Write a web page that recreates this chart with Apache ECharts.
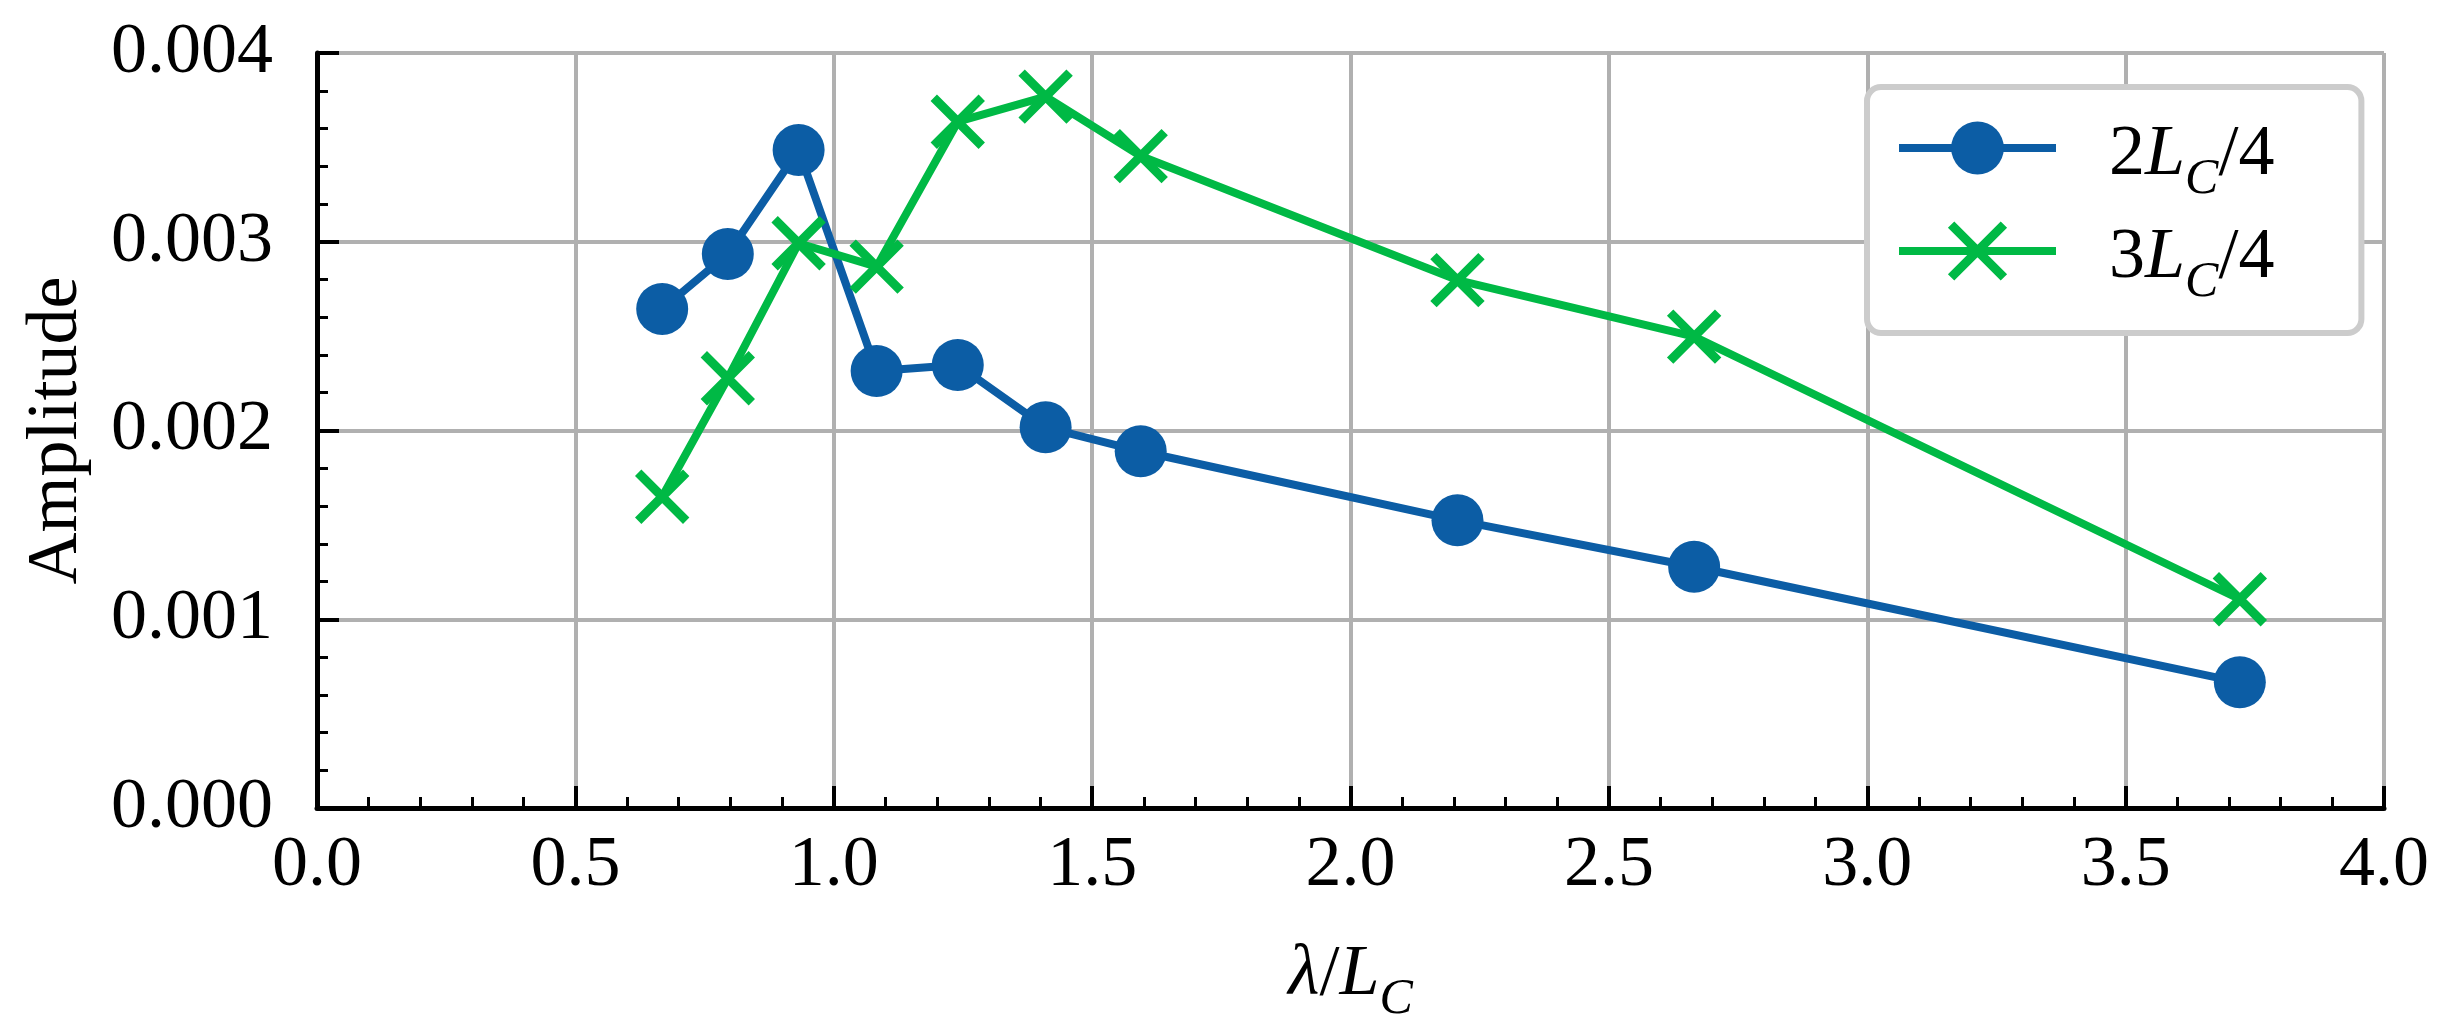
<!DOCTYPE html>
<html lang="en">
<head>
    <meta charset="UTF-8">
    <title>Amplitude</title>
    <script src="https://cdn.jsdelivr.net/npm/echarts@6/dist/echarts.min.js"></script>
    <style>
        html, body { margin: 0; padding: 0; background: #fff; }
        #main { width: 2449px; height: 1030px; }
    </style>
</head>
<body>
<div id="main"></div>
<script>
    // values
    var xVals = [0.668, 0.795, 0.932, 1.083, 1.240, 1.410, 1.594, 2.207, 2.665, 3.721];
    var amp2 = [0.002644, 0.002935, 0.003486, 0.002315, 0.002347, 0.002017, 0.001890, 0.001524, 0.001278, 0.000666];
    var amp3 = [0.001649, 0.002277, 0.002992, 0.002868, 0.003636, 0.003769, 0.003454, 0.002797, 0.002497, 0.001106];
    var names = ['2Lc/4', '3Lc/4'];
    var legendRich = {
        '2Lc/4': '{g| }{n|2}{i|L}{s|C}{n|/4}',
        '3Lc/4': '{g| }{n|3}{i|L}{s|C}{n|/4}'
    };

    var font = 'Liberation Serif';
    var rich = {
        g: { width: 48, fontSize: 20 },
        n: { fontFamily: font, fontSize: 72, lineHeight: 72, verticalAlign: 'top', padding: [7, 0, 7, 0], color: '#000' },
        i: { fontFamily: font, fontSize: 72, lineHeight: 72, fontStyle: 'italic', verticalAlign: 'top', padding: [7, 0, 7, 0], color: '#000' },
        s: { fontFamily: font, fontSize: 50, lineHeight: 50, fontStyle: 'italic', verticalAlign: 'top', padding: [43, 0, 0, 0], color: '#000' }
    };

    function pairs(ys) {
        var out = [];
        for (var k = 0; k < xVals.length; k++) out.push([xVals[k], ys[k]]);
        return out;
    }

    var myChart = echarts.init(document.getElementById('main'));
    var axisCommon = {
        axisLine: { show: true, onZero: false, lineStyle: { color: '#000', width: 5 } },
        axisTick: { show: true, inside: true, length: 22, lineStyle: { color: '#000', width: 4 } },
        minorTick: { show: true, splitNumber: 5, length: 11, lineStyle: { color: '#000', width: 3 } },
        splitLine: { show: true, lineStyle: { color: '#b0b0b0', width: 4 } }
    };

    var option = {
        backgroundColor: '#fff',
        animation: false,
        grid: { left: 317, right: 65, top: 53, bottom: 222 },
        legend: {
            data: [
                { name: names[0] },
                { name: names[1], itemStyle: { borderWidth: 9 } }
            ],
            orient: 'vertical',
            left: 1867,
            top: 87,
            padding: [25, 87, 25, 28],
            itemWidth: 157,
            itemHeight: 66,
            itemGap: 10,
            backgroundColor: '#fff',
            borderColor: '#cccccc',
            borderWidth: 6,
            borderRadius: 14,
            lineStyle: { width: 8 },
            formatter: function (name) { return legendRich[name]; },
            textStyle: { rich: rich }
        },
        xAxis: Object.assign({
            type: 'value',
            min: 0,
            max: 4,
            interval: 0.5,
            name: '{i|λ}{n|/}{i|L}{s|C}',
            nameLocation: 'middle',
            nameGap: 124,
            nameTextStyle: { rich: rich },
            axisLabel: {
                margin: 22,
                fontFamily: font, fontSize: 72, color: '#000',
                formatter: function (v) { return v.toFixed(1); }
            }
        }, axisCommon),
        yAxis: Object.assign({
            type: 'value',
            min: 0,
            max: 0.004,
            interval: 0.001,
            name: 'Amplitude',
            nameLocation: 'middle',
            nameGap: 224,
            nameTextStyle: { fontFamily: font, fontSize: 72, color: '#000' },
            axisLabel: {
                margin: 44,
                fontFamily: font, fontSize: 72, color: '#000',
                formatter: function (v) { return v.toFixed(3); }
            }
        }, axisCommon),
        series: [
            {
                name: names[0],
                type: 'line',
                data: pairs(amp2),
                symbol: 'circle',
                symbolSize: 52,
                lineStyle: { color: '#0C5DA5', width: 8 },
                itemStyle: { color: '#0C5DA5' }
            },
            {
                name: names[1],
                type: 'line',
                data: pairs(amp3),
                symbol: 'path://M0,0L10,10M10,0L0,10',
                symbolSize: 48,
                lineStyle: { color: '#00B945', width: 8 },
                itemStyle: { color: '#00B945', borderColor: '#00B945', borderWidth: 9 }
            }
        ]
    };

    myChart.setOption(option);
</script>
</body>
</html>
